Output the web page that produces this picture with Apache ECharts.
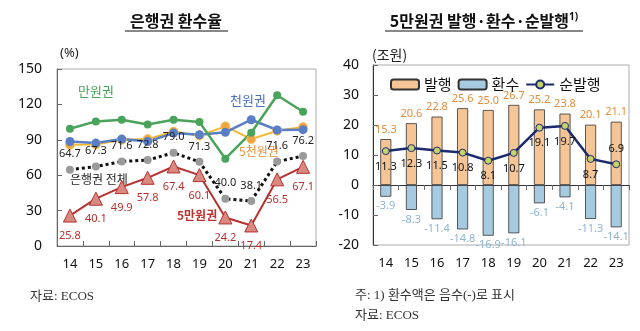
<!DOCTYPE html>
<html><head><meta charset="utf-8">
<script src="https://cdn.jsdelivr.net/npm/echarts@6/dist/echarts.min.js"></script>
<style>html,body{margin:0;padding:0;background:#fff}#c{width:640px;height:331px}</style>
</head><body><div id="c"></div>
<script>
const years = ['14','15','16','17','18','19','20','21','22','23'];
const rate10k = [99.4, 105.6, 107.0, 103.0, 107.0, 105.0, 74.0, 96.0, 127.7, 113.8];
const rate1k = [88.6, 87.2, 90.6, 88.6, 95.7, 94.3, 96.3, 107.0, 98.3, 98.6];
const rate5k = [85.8, 86.0, 90.0, 90.6, 97.0, 93.5, 101.4, 90.6, 97.7, 100.8];
const rateAll = [64.7, 67.3, 71.6, 72.8, 79.0, 71.3, 40.0, 38.1, 71.6, 76.2];
const rate50k = [25.8, 40.1, 49.9, 57.8, 67.4, 60.1, 24.2, 17.4, 56.5, 67.1];
const issue50k = [15.3, 20.6, 22.8, 25.6, 25.0, 26.7, 25.2, 23.8, 20.1, 21.1];
const redeem50k = [-3.9, -8.3, -11.4, -14.8, -16.9, -16.1, -6.1, -4.1, -11.3, -14.1];
const net50k = [11.3, 12.3, 11.5, 10.8, 8.1, 10.7, 19.1, 19.7, 8.7, 6.9];
const leftTicks = {min: 0, max: 150, interval: 30};
const rightTicks = {min: -20, max: 40, interval: 10};

const F = "'Noto Sans','Noto Sans CJK KR',sans-serif";
const K = "'Noto Sans CJK KR',sans-serif";
const S = "'Liberation Serif','Noto Sans CJK KR',serif";
const LF = 11;
const chart = echarts.init(document.getElementById('c'));

const axisTxt = {color:'#111', fontSize:14, fontFamily:F};
chart.setOption({
  animation:false,
  textStyle:{fontFamily:F},
  grid:[
    {left:57, right:324, top:69, bottom:85, show:true, borderColor:'#aaa', borderWidth:1, containLabel:false},
    {left:373, right:11, top:65, bottom:86, show:true, borderColor:'#aaa', borderWidth:1, containLabel:false}
  ],
  legend:{
    data:['발행','환수','순발행'], left:385, top:72, itemWidth:28, itemHeight:10, itemGap:6,
    textStyle:{fontSize:15, color:'#111', fontFamily:K}
  },
  xAxis:[
    {type:'category', gridIndex:0, data:years, axisLine:{show:true, lineStyle:{color:'#666'}},
     axisTick:{show:true, inside:true, length:5, lineStyle:{color:'#666'}},
     axisLabel:{...axisTxt, fontSize:13, margin:12}},
    {type:'category', gridIndex:1, data:years, position:'bottom', axisLine:{show:false, onZero:false},
     axisTick:{show:false}, axisLabel:{...axisTxt, fontSize:13, margin:12}},
    {type:'category', gridIndex:1, data:years, position:'top', axisLine:{show:true, onZero:true, lineStyle:{color:'#333'}},
     axisTick:{show:true, inside:true, length:5, lineStyle:{color:'#666'}}, axisLabel:{show:false}}
  ],
  yAxis:[
    {type:'value', gridIndex:0, min:leftTicks.min, max:leftTicks.max, interval:leftTicks.interval,
     splitLine:{show:false}, axisLine:{show:true, lineStyle:{color:'#666'}},
     axisTick:{show:true, inside:true, length:5, lineStyle:{color:'#666'}}, axisLabel:{...axisTxt, margin:15}},
    {type:'value', gridIndex:1, min:rightTicks.min, max:rightTicks.max, interval:rightTicks.interval,
     splitLine:{show:false}, axisLine:{show:true, lineStyle:{color:'#333'}},
     axisTick:{show:true, inside:true, length:5, lineStyle:{color:'#666'}}, axisLabel:{...axisTxt, margin:14}}
  ],
  series:[
    {name:'5천원권', type:'line', xAxisIndex:0, yAxisIndex:0, data:rate5k, symbol:'circle', symbolSize:9,
     lineStyle:{color:'#f5b82e', width:2}, itemStyle:{color:'#f0a640', borderColor:'#f7c56a', borderWidth:1}},
    {name:'천원권', type:'line', xAxisIndex:0, yAxisIndex:0, data:rate1k, symbol:'circle', symbolSize:9,
     lineStyle:{color:'#5a7ec6', width:2.5}, itemStyle:{color:'#5a7ec6'}},
    {name:'만원권', type:'line', xAxisIndex:0, yAxisIndex:0, data:rate10k, symbol:'circle', symbolSize:8,
     lineStyle:{color:'#4aa35a', width:2.5}, itemStyle:{color:'#4aa35a'}},
    {name:'은행권 전체', type:'line', xAxisIndex:0, yAxisIndex:0, data:rateAll, symbol:'circle', symbolSize:8,
     lineStyle:{color:'#111', width:3, type:'dotted'}, itemStyle:{color:'#9a9a9a'},
     label:{show:true, position:'top', distance:6, color:'#222', fontSize:LF, fontFamily:F, formatter:p=>p.value.toFixed(1)}},
    {name:'5만원권', type:'line', xAxisIndex:0, yAxisIndex:0, data:rate50k, symbol:'triangle', symbolSize:13,
     lineStyle:{color:'#b8302e', width:2}, itemStyle:{color:'#d88a80', borderColor:'#b8302e', borderWidth:1},
     label:{show:true, position:'bottom', distance:8, color:'#b8302e', fontSize:LF, fontFamily:F, formatter:p=>p.value.toFixed(1)}},

    {name:'발행', type:'bar', xAxisIndex:1, yAxisIndex:1, data:issue50k, stack:'s', barWidth:11,
     itemStyle:{color:'#f5c595', borderColor:'#333', borderWidth:0.8},
     label:{show:true, position:'top', distance:4, color:'#e28e3e', fontSize:LF, fontFamily:F, formatter:p=>p.value.toFixed(1)}},
    {name:'환수', type:'bar', xAxisIndex:1, yAxisIndex:1, data:redeem50k, stack:'s', barWidth:11,
     itemStyle:{color:'#a6cbe0', borderColor:'#333', borderWidth:0.8},
     label:{show:true, position:'bottom', distance:4, color:'#8fb5d2', fontSize:LF, fontFamily:F, formatter:p=>p.value.toFixed(1)}},
    {name:'순발행', type:'line', xAxisIndex:1, yAxisIndex:1, symbol:'circle', symbolSize:7,
     lineStyle:{color:'#1c2a6e', width:2.5}, itemStyle:{color:'#c4d46a', borderColor:'#1c2a6e', borderWidth:1},
     label:{show:true, position:'bottom', distance:6, color:'#111', fontSize:LF, fontFamily:F,
       formatter:p=>p.value.toFixed(1)},
     data: net50k.map((v,i)=> i===9 ? {value:v, label:{position:'top'}} : v)}
  ],
  graphic:[
    {type:'text', x:176, y:21, style:{text:'은행권 환수율', fontSize:16, fontWeight:'bold', fontFamily:K, fill:'#111', align:'center', verticalAlign:'middle'}},
    {type:'line', shape:{x1:125, y1:31, x2:228, y2:31}, style:{stroke:'#111', lineWidth:1.2}},
    {type:'text', x:484, y:21, style:{text:'5만원권 발행·환수·순발행{s|1)}', fontSize:16, fontWeight:'bold', fontFamily:K, fill:'#111', align:'center', verticalAlign:'middle',
      rich:{s:{fontSize:10, fontWeight:'bold', fontFamily:F, verticalAlign:'top', padding:[0,0,8,0]}}}},
    {type:'line', shape:{x1:385, y1:31, x2:583, y2:31}, style:{stroke:'#111', lineWidth:1.2}},
    {type:'text', x:60, y:53, style:{text:'(%)', fontSize:13, fontFamily:F, fill:'#222', verticalAlign:'middle'}},
    {type:'text', x:372, y:55, style:{text:'(조원)', fontSize:14, fontFamily:K, fill:'#222', verticalAlign:'middle'}},
    {type:'text', x:78, y:91, style:{text:'만원권', fontSize:13, fontFamily:K, fill:'#4aa35a', verticalAlign:'middle'}},
    {type:'text', x:230, y:100, style:{text:'천원권', fontSize:13, fontFamily:K, fill:'#4a6fc0', verticalAlign:'middle'}},
    {type:'text', x:239, y:151, style:{text:'5천원권', fontSize:12, fontFamily:K, fill:'#e8903a', verticalAlign:'middle'}},
    {type:'text', x:70, y:179, style:{text:'은행권 전체', fontSize:12, fontFamily:K, fill:'#222', verticalAlign:'middle'}},
    {type:'text', x:177, y:215, style:{text:'5만원권', fontSize:12, fontWeight:'bold', fontFamily:K, fill:'#c0302e', verticalAlign:'middle'}},
    {type:'text', x:30, y:297, style:{text:'자료: ECOS', fontSize:13, fontFamily:S, fill:'#333', verticalAlign:'middle'}},
    {type:'text', x:355, y:296, style:{text:'주: 1) 환수액은 음수(-)로 표시', fontSize:13, fontFamily:S, fill:'#333', verticalAlign:'middle'}},
    {type:'text', x:355, y:316, style:{text:'자료: ECOS', fontSize:13, fontFamily:S, fill:'#333', verticalAlign:'middle'}}
  ]
});
</script></body></html>
